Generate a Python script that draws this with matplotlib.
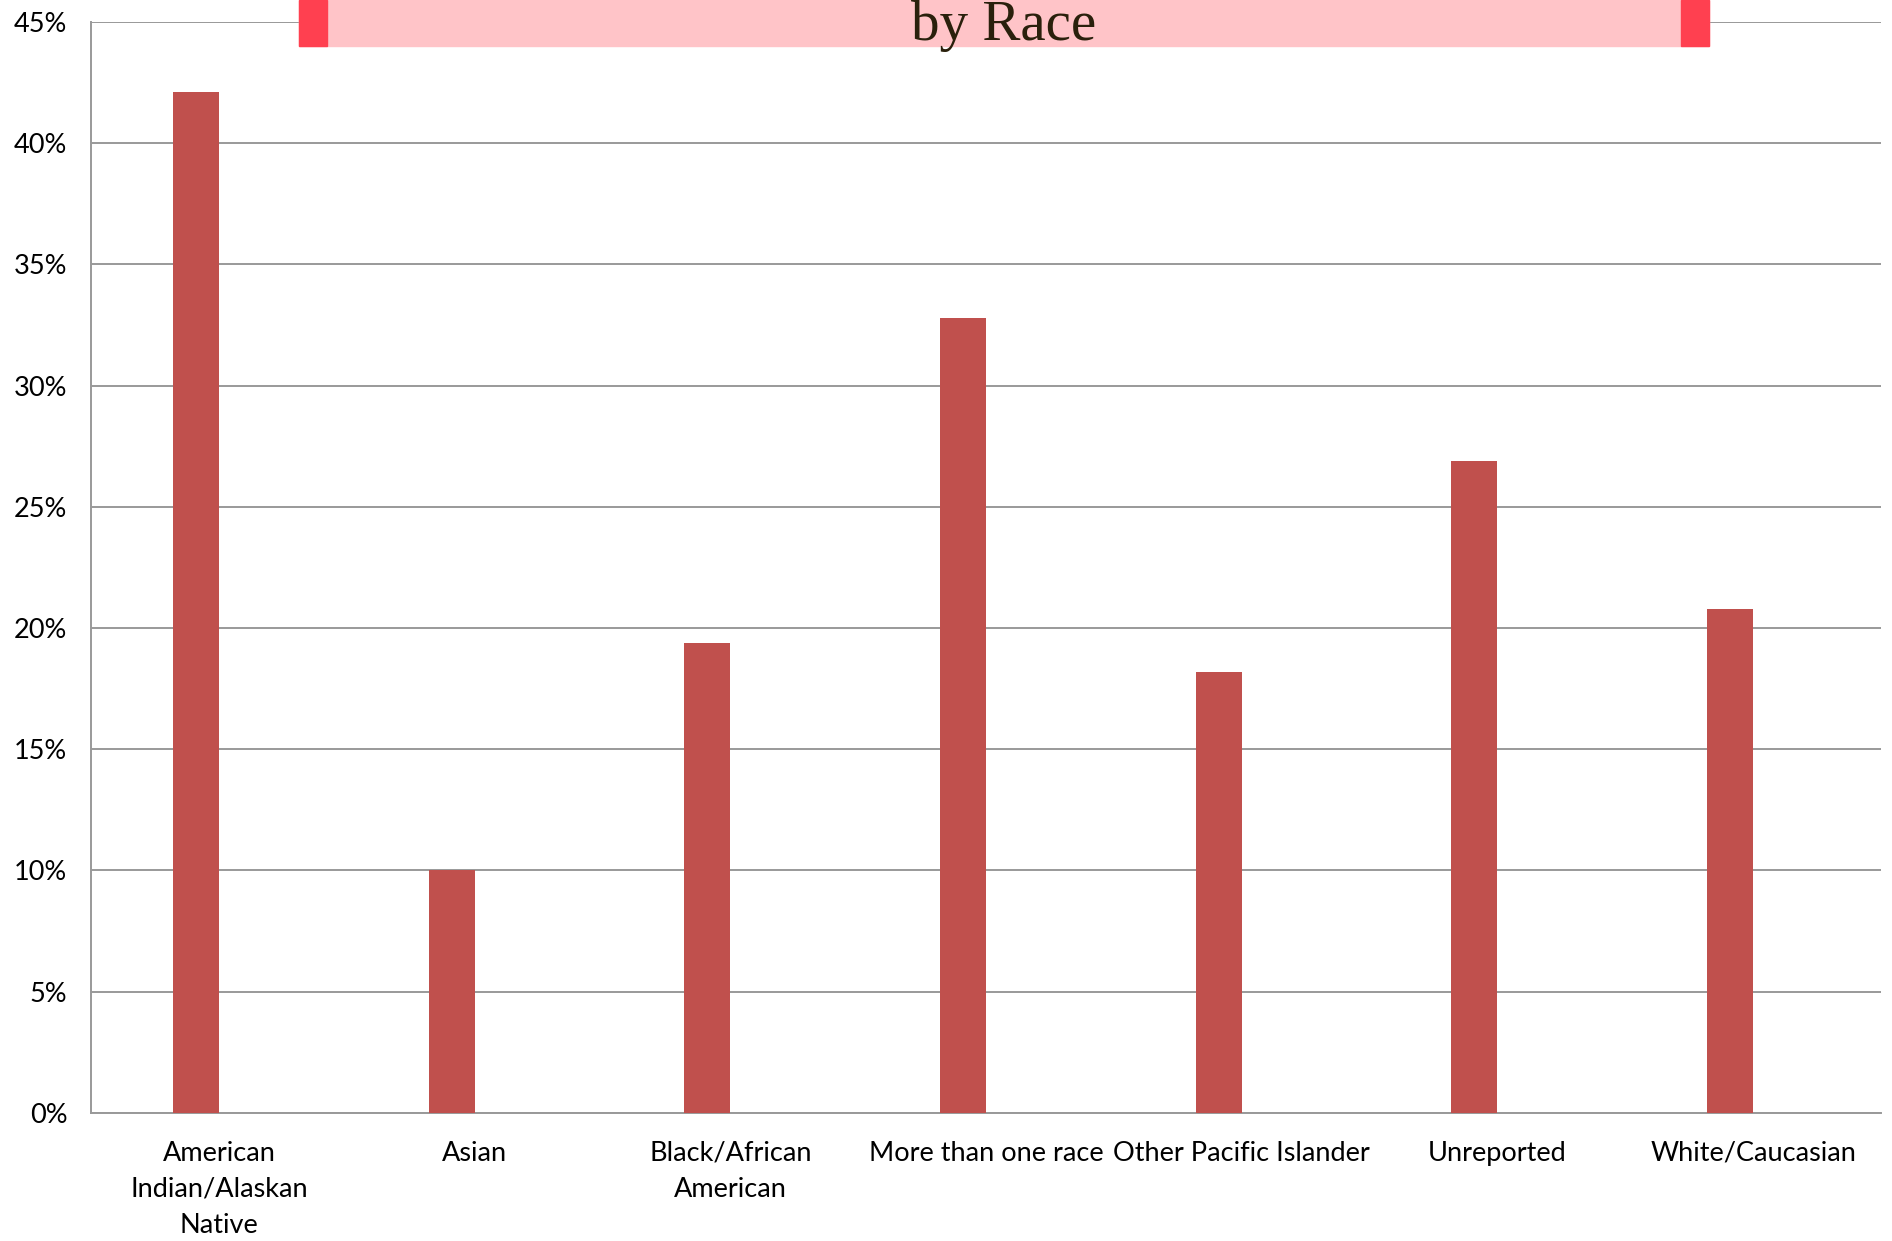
import matplotlib.pyplot as plt
import matplotlib.patches as patches
from matplotlib.ticker import PercentFormatter
import numpy as np

# data
races = ["American\nIndian/Alaskan\nNative", "Asian", "Black/African\nAmerican",
         "More than one race", "Other Pacific Islander", "Unreported", "White/Caucasian"]
pct = [42.1, 10.0, 19.4, 32.8, 18.2, 26.9, 20.8]
yticks = [0, 5, 10, 15, 20, 25, 30, 35, 40, 45]

bar_color = "#C0504D"
grid_color = "#999999"

fig = plt.figure(figsize=(18.92, 12.41), dpi=100)
ax = fig.add_axes([0.0481, 0.1032, 0.9461, 0.8791])

x = np.arange(len(races))
# bars sit just left of the category centre (excel clustered column)
ax.bar(x, pct, width=-0.18, align="edge", color=bar_color, zorder=3)

ax.set_xlim(-0.5, len(races) - 0.5)
ax.set_ylim(0, 45)
ax.set_yticks(yticks)
ax.yaxis.set_major_formatter(PercentFormatter(decimals=0))
ax.grid(axis="y", color=grid_color, linewidth=1.4, zorder=0)

ax.set_xticks(x)
ax.set_xticklabels(races, linespacing=1.55)
ax.tick_params(axis="both", length=0, labelsize=19.5, colors="black")
ax.tick_params(axis="y", pad=17)
ax.tick_params(axis="x", pad=20)
for lab in ax.get_xticklabels() + ax.get_yticklabels():
    lab.set_fontfamily("Lato")

for s in ["top", "right"]:
    ax.spines[s].set_visible(False)
for s in ["left", "bottom"]:
    ax.spines[s].set_color(grid_color)
    ax.spines[s].set_linewidth(1.4)

# title banner, cut off at the top of the image
fig.patches.append(patches.Rectangle((299 / 1892, 1 - 46 / 1241), 1410 / 1892, 46 / 1241,
                                     transform=fig.transFigure, color="#FFC4C8", zorder=5))
fig.patches.append(patches.Rectangle((299 / 1892, 1 - 46 / 1241), 28 / 1892, 46 / 1241,
                                     transform=fig.transFigure, color="#FF4050", zorder=6))
fig.patches.append(patches.Rectangle((1681 / 1892, 1 - 46 / 1241), 28 / 1892, 46 / 1241,
                                     transform=fig.transFigure, color="#FF4050", zorder=6))
fig.text(1004 / 1892, 1 - 40 / 1241, "by Race", ha="center", va="baseline",
         fontsize=41, family="Liberation Serif", color="#2A200C", zorder=7)

fig.savefig("out.png", dpi=100)
